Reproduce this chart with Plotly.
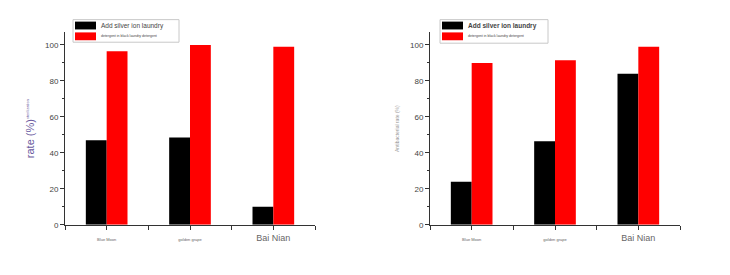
import plotly.graph_objects as go

categories = ["Blue Moon", "golden grape", "Bai Nian"]
label_sizes = [4, 4, 9]
series_names = ["Add silver ion laundry", "detergent in black laundry detergent"]
series_colors = ["black", "#ff0000"]
left_silver = [47, 48.5, 10]
left_plain = [96.5, 100, 99]
right_silver = [24, 46.5, 84]
right_plain = [90, 91.5, 99]
y_ticks = [0, 20, 40, 60, 80, 100]

W, H = 730, 275
xpos = list(range(len(categories)))
ticktext = [f"<span style='font-size:{s}px'>{c}</span>" for c, s in zip(categories, label_sizes)]

fig = go.Figure()
fig.add_trace(go.Bar(x=xpos, y=left_silver, name=series_names[0], marker_color=series_colors[0],
                     marker_line_width=0, xaxis="x", yaxis="y", offsetgroup="a"))
fig.add_trace(go.Bar(x=xpos, y=left_plain, name=series_names[1], marker_color=series_colors[1],
                     marker_line_width=0, xaxis="x", yaxis="y", offsetgroup="b"))
fig.add_trace(go.Bar(x=xpos, y=right_silver, name=series_names[0], marker_color=series_colors[0],
                     marker_line_width=0, xaxis="x2", yaxis="y2", offsetgroup="a"))
fig.add_trace(go.Bar(x=xpos, y=right_plain, name=series_names[1], marker_color=series_colors[1],
                     marker_line_width=0, xaxis="x2", yaxis="y2", offsetgroup="b"))

ybot = (H - 229) / H
ytop = (H - 33) / H

common_x = dict(range=[-0.5, 2.5], tickvals=xpos, ticktext=ticktext, ticks="outside", ticklen=4,
                tickcolor="#333", showline=True, linecolor="#333", linewidth=1, showgrid=False,
                zeroline=False, tickfont=dict(family="Arial", size=9, color="#666"),
                minor=dict(tickvals=[-0.5, 0.5, 1.5, 2.5], ticks="outside", ticklen=4, tickcolor="#333"))
common_y = dict(range=[0, 107], tickvals=y_ticks, ticks="outside", ticklen=4, tickcolor="#333",
                showline=True, linecolor="#333", linewidth=1, showgrid=False, zeroline=False,
                tickfont=dict(family="Arial", size=8, color="#444"),
                minor=dict(dtick=10, ticks="outside", ticklen=2, tickcolor="#333"))


def px(x):
    return x / W


def py(y):
    return (H - y) / H


shapes = []
annotations = []
legend_boxes = [
    (73, 179, 20, 43, False),
    (440, 548, 20, 44, True),
]
for (bx0, bx1, by0, by1, bold) in legend_boxes:
    shapes.append(dict(type="rect", xref="paper", yref="paper", x0=px(bx0), x1=px(bx1),
                       y0=py(by1), y1=py(by0), line=dict(color="#c8c8c8", width=1),
                       fillcolor="white", layer="above"))
    rows = [(by0 + 2, by0 + 10), (by0 + 13, by0 + 21)]
    for i, (ry0, ry1) in enumerate(rows):
        shapes.append(dict(type="rect", xref="paper", yref="paper", x0=px(bx0 + 2), x1=px(bx0 + 23),
                           y0=py(ry1), y1=py(ry0), line=dict(width=0),
                           fillcolor=series_colors[i], layer="above"))
        name = series_names[i]
        size = 6.5 if i == 0 else 3.5
        if i == 0 and bold:
            name = "<b>" + name + "</b>"
        annotations.append(dict(text=name, xref="paper", yref="paper", x=px(bx0 + 26),
                                y=py((ry0 + ry1) / 2), xanchor="left", yanchor="middle",
                                showarrow=False,
                                font=dict(family="Arial", size=size, color="#444")))

fig.update_layout(
    width=W, height=H, margin=dict(l=0, r=0, t=0, b=0),
    paper_bgcolor="white", plot_bgcolor="white",
    barmode="group", bargap=0.5, bargroupgap=0, showlegend=False,
    xaxis=dict(domain=[65 / W, 315 / W], anchor="y", **common_x),
    yaxis=dict(domain=[ybot, ytop], anchor="x",
               title=dict(text="rate (%)<sup><span style='font-size:4px'>sterilization</span></sup>",
                          font=dict(family="Arial", size=11, color="#6a5aa0"), standoff=8),
               **common_y),
    xaxis2=dict(domain=[430 / W, 680 / W], anchor="y2", **common_x),
    yaxis2=dict(domain=[ybot, ytop], anchor="x2",
                title=dict(text="Antibacterial rate (%)",
                           font=dict(family="Arial", size=5, color="#999"), standoff=10),
                **common_y),
    shapes=shapes,
    annotations=annotations,
)

fig.write_html("out.html")
